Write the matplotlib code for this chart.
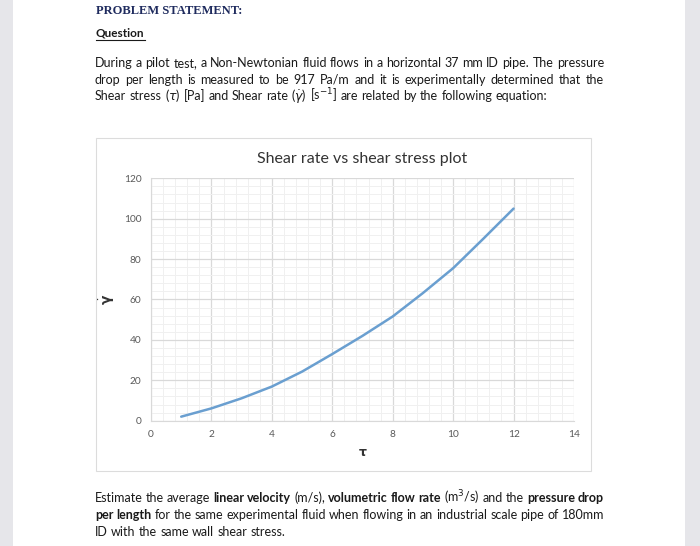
import matplotlib
matplotlib.use("Agg")
import matplotlib.pyplot as plt
from matplotlib.patches import Rectangle
from matplotlib.ticker import MultipleLocator

# values
tau = [1, 2, 3, 4, 5, 6, 7, 8, 9, 10, 11, 12]
gamma = [2.0, 6.1, 11.1, 16.9, 24.3, 33.0, 42.0, 51.6, 63.2, 75.5, 90.1, 105.0]
x_ticks = [0, 2, 4, 6, 8, 10, 12, 14]
y_ticks = [0, 20, 40, 60, 80, 100, 120]

SANS = ["Lato", "DejaVu Sans"]
plt.rcParams["font.family"] = SANS
plt.rcParams["mathtext.fontset"] = "dejavusans"

W, H = 700, 546
fig = plt.figure(figsize=(7, 5.46), dpi=100)
fig.patch.set_facecolor("white")


def fx(px):
    return px / W


def fy(py):
    return 1 - py / H


# page margins
fig.patches.append(Rectangle((0, 0), fx(13), 1, transform=fig.transFigure,
                             facecolor="#e6e6ea", edgecolor="none", zorder=-2))
fig.patches.append(Rectangle((fx(685), 0), fx(15), 1, transform=fig.transFigure,
                             facecolor="#e6e6ea", edgecolor="none", zorder=-2))

# chart box
fig.patches.append(Rectangle((fx(96), fy(471)), fx(495), 333 / H, transform=fig.transFigure,
                             facecolor="white", edgecolor="#dcdcdc", linewidth=0.8, zorder=-1))

txt = "#1a1a1a"
FS = 9.0
fig.text(fx(96), fy(13.5), "PROBLEM STATEMENT:", family=["Liberation Serif"], weight="bold",
         fontsize=9.0, color="#1f2b5e", va="baseline")
q = fig.text(fx(96), fy(37), "Question", weight="bold", fontsize=8.5, color=txt, va="baseline")

# (text, bold) runs per line; last flag says whether the line is justified
top_lines = [
    ([("During a pilot test, a Non-Newtonian fluid flows in a horizontal 37 mm ID pipe. The pressure", False)], True),
    ([("drop per length is measured to be 917 Pa/m and it is experimentally determined that the", False)], True),
    ([(r"Shear stress ($\tau$) [Pa] and Shear rate ($\dot{\gamma}$) [s$^{-1}$] are related by the following equation:", False)], False),
]
bottom_lines = [
    ([("Estimate the average", False), ("linear velocity", True), ("(m/s),", False),
      ("volumetric flow rate", True), (r"(m$^3$/s) and the", False), ("pressure drop", True)], True),
    ([("per length", True), ("for the same experimental fluid when flowing in an industrial scale pipe of 180mm", False)], True),
    ([("ID with the same wall shear stress.", False)], False),
]

fig.canvas.draw()
renderer = fig.canvas.get_renderer()


def width_of(s, bold):
    t = fig.text(0, 0, s, fontsize=FS, weight="bold" if bold else "normal")
    w = t.get_window_extent(renderer).width
    t.remove()
    return w


def draw_line(runs, justify, baseline, left=95, right=604):
    words = []
    for s, b in runs:
        for w in s.split(" "):
            words.append((w, b))
    widths = [width_of(w, b) for w, b in words]
    natural_space = width_of("a a", False) - width_of("aa", False)
    if justify and len(words) > 1:
        space = (right - left - sum(widths)) / (len(words) - 1)
    else:
        space = natural_space
    x = left
    for (w, b), wd in zip(words, widths):
        fig.text(fx(x), fy(baseline), w, fontsize=FS, color=txt, va="baseline",
                 weight="bold" if b else "normal")
        x += wd + space


for i, (runs, just) in enumerate(top_lines):
    draw_line(runs, just, 67 + 16.5 * i)
for i, (runs, just) in enumerate(bottom_lines):
    draw_line(runs, just, 502 + 17 * i)

# underline for "Question"
bb = q.get_window_extent(renderer)
fig.add_artist(plt.Line2D([fx(bb.x0), fx(bb.x1)], [fy(39.5), fy(39.5)],
                          transform=fig.transFigure, color=txt, linewidth=0.8))

# the chart
ax = fig.add_axes([fx(151), fy(420.7), fx(574 - 151), (420.7 - 178.3) / H])
ax.plot(tau, gamma, color="#6a9fd0", linewidth=1.8, solid_capstyle="round",
        solid_joinstyle="round")
ax.set_xlim(0, 14)
ax.set_ylim(0, 120)
ax.set_xticks(x_ticks)
ax.set_yticks(y_ticks)
ax.xaxis.set_minor_locator(MultipleLocator(0.4))
ax.yaxis.set_minor_locator(MultipleLocator(4))
ax.grid(which="major", color="#d9d9d9", linewidth=0.9)
ax.grid(which="minor", color="#f0f0f0", linewidth=0.7)
ax.set_axisbelow(True)
for side in ["top", "right"]:
    ax.spines[side].set_visible(False)
for side in ["left", "bottom"]:
    ax.spines[side].set_color("#d9d9d9")
ax.tick_params(which="both", length=0, labelsize=7.3, colors="#595959", pad=7)
ax.set_title("Shear rate vs shear stress plot", fontsize=11.5, color="#333333", pad=11)
ax.set_xlabel(r"$\mathbf{\tau}$", fontsize=9, color="#333333", labelpad=5)
ax.set_ylabel(r"$\dot{\mathbf{\gamma}}$", fontsize=10, color="#333333", labelpad=5)

fig.savefig("out.png", dpi=100)
